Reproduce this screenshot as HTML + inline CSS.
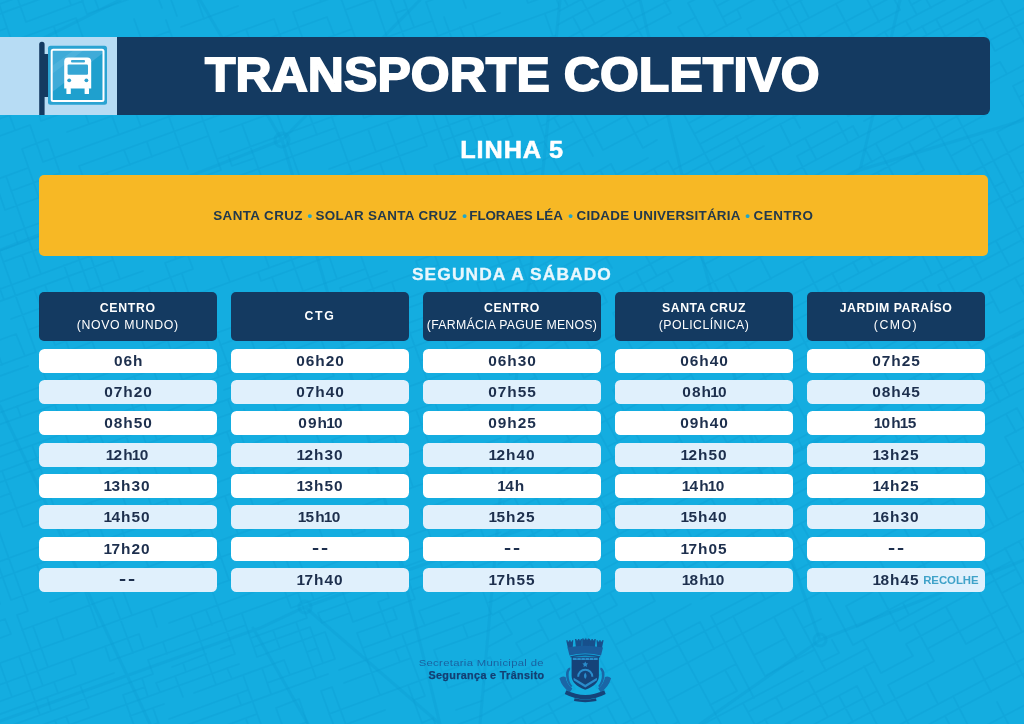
<!DOCTYPE html>
<html lang="pt-BR">
<head>
<meta charset="utf-8">
<title>Transporte Coletivo - Linha 5</title>
<style>
*{box-sizing:border-box;margin:0;padding:0}
html,body{width:1024px;height:724px;overflow:hidden}
body{background:#14ade0;font-family:"Liberation Sans",sans-serif;position:relative;color:#1b2f4a}
.abs{position:absolute}
#map{position:absolute;left:0;top:0;width:1024px;height:724px}
#lp{left:0;top:37px;width:117px;height:78px;background:#b7dcf4}
#banner{left:117px;top:37.200px;width:872.500px;height:77.800px;background:#143a61;border-radius:0 6px 6px 0}
#title{left:117px;top:37px;width:873px;height:78px;color:#fff;font-weight:bold;font-size:48.6px;line-height:78px;letter-spacing:.1px;-webkit-text-stroke:1.8px #fff;white-space:nowrap}
#title span{position:absolute;left:87.6px;top:-1.8px;display:inline-block;transform-origin:0 50%;transform:scaleX(1.027)}
#linha{left:0;top:136px;width:1024px;text-align:center;color:#fff;font-weight:bold;font-size:23px;line-height:28px;white-space:nowrap}
#yellow{left:39px;top:175.200px;width:949px;height:81.200px;background:#f7b825;border-radius:5px}
#route{left:39px;top:175px;width:949px;height:81px;line-height:81px;text-align:center;font-weight:bold;font-size:13.4px;color:#23394b;white-space:nowrap;letter-spacing:.42px}
#route span,#route i{position:absolute;top:.3px}
#route i{font-style:normal;color:#1fa6c9;width:10px;text-align:center;letter-spacing:0}
#seg{left:0;top:265px;-webkit-text-stroke:.3px #e9f7fd;width:1024px;text-align:center;color:#e9f7fd;font-weight:bold;font-size:15.8px;line-height:20px;white-space:nowrap}
.col{position:absolute;top:292px;width:178px}
.hd{height:49px;background:#143a61;border-radius:5px;color:#fff;text-align:center;font-size:12.3px;line-height:16.5px;display:flex;flex-direction:column;justify-content:center;white-space:nowrap}
.hd b{display:block}
.r{height:24px;margin-top:7.4px;background:#fff;border-radius:5.5px;text-align:center;font-weight:bold;font-size:14.3px;line-height:25.6px;color:#1d2f4d;white-space:nowrap;position:relative}
.r.a{background:#e0f0fc}
.hd + .r{margin-top:7.5px}
.r i{font-style:normal;margin:0 -1.6px 0 -1.6px}
.r em{position:absolute;left:116.2px;top:0;font-style:normal;font-size:11.4px;color:#3fa2c9;font-weight:bold;letter-spacing:-.05px;line-height:24.5px}
.sx{display:inline-block;transform-origin:50% 50%}
.r .sx{transform:scaleX(1.08);letter-spacing:.9px;margin-right:-.9px}
.r .sx.d{transform:translateY(-1.4px) scale(1.5,1.15);letter-spacing:1.2px;margin-right:-1.2px}
.hd b{letter-spacing:.7px}
.hd span{letter-spacing:.65px}
#bus{left:0;top:37px;width:117px;height:78px}
#f1{left:300px;top:657px;width:243.800px;text-align:right;font-size:9.8px;line-height:12px;color:#1a62a0;white-space:nowrap;letter-spacing:.28px}
#f1 span{display:inline-block;transform:scaleX(1.15);transform-origin:100% 50%;margin-right:-.28px}
#f2 span{display:inline-block;transform:scaleX(1.08);transform-origin:100% 50%;margin-right:-.32px}
#f2{left:300px;top:670.300px;-webkit-text-stroke:.25px #143f73;width:243.800px;text-align:right;font-size:10px;line-height:12px;color:#143f73;font-weight:bold;white-space:nowrap;letter-spacing:.32px}
#crest{left:556px;top:636px;width:60px;height:68px}
</style>
</head>
<body>
<svg id="map" viewBox="0 0 1024 724" fill="none" stroke="#0f9ed2" stroke-opacity=".36" stroke-linecap="round">
<defs>
<clipPath id="z0"><polygon points="0,0 560,0 480,724 0,724"/></clipPath>
<clipPath id="z1"><polygon points="560,0 1024,0 1024,724 480,724"/></clipPath>
</defs>
<path clip-path="url(#z0)" stroke-width="1.7" d="M-35 -5L135 -67M-50 22L74 -23M85 -27L175 -60M-47 31L43 -2M66 -10L88 -18M-105 69L7 28M26 22L83 1M122 -13L246 -58M-78 74L76 18M87 14L166 -14M189 -23L298 -62M-153 149L27 83M69 68L170 31M181 27L238 6M266 -4L439 -67M-378 256L150 64M178 54L274 19M293 12L340 -5M368 -16L425 -36M-265 232L30 125M41 121L327 17M345 10L823 -164M-31 168L-1 157M22 149L48 139M67 132L112 116M123 112L134 108M162 98L352 29M396 13L407 9M426 2L488 -21M-359 309L-36 191M-24 187L28 168M43 162L265 82M293 71L312 64M340 54L432 21M494 -2L637 -54M-120 239L0 195M11 191L60 173M79 166L299 86M318 79L393 52M408 47L500 13M528 3L692 -57M-241 300L-13 217M5 210L208 136M220 132L398 67M413 62L455 47M477 38L582 0M648 -24L697 -42M-73 264L48 220M74 211L93 204M138 187L149 183M217 159L378 100M406 90L433 80M452 73L568 31M609 16L705 -19M717 -23L906 -92M-114 292L-12 255M-1 251L52 232M67 226L153 195M164 191L221 170M232 166L255 158M288 145L335 128M364 118L456 85M467 80L518 62M546 52L614 27M661 10L815 -46M-31 274L-8 266M3 262L123 218M169 202L197 192M225 181L415 112M430 107L460 96M471 92L482 88M522 73L561 59M599 45L762 -14M781 -21L796 -27M819 -35L841 -43M-90 322L205 214M233 204L244 200M267 192L301 179M329 169L479 114M491 110L502 106M530 96L585 76M607 68L654 51M673 44L789 1M804 -4L957 -60M-246 391L113 260M136 252L181 236M209 225L427 146M442 141L630 72M658 62L692 50M726 37L737 33M756 26L831 -1M854 -9L876 -17M927 -36L1119 -106M11 319L52 304M75 295L143 271M165 263L312 209M359 192L406 175M434 165L479 148M490 144L513 136M541 126L580 111M595 106L665 81M684 74L744 52M763 45L800 31M815 26L911 -9M996 -40L1167 -102M-62 363L-40 354M-6 342L16 334M28 330L193 269M221 259L261 245M283 237L345 214M364 207L454 174M466 170L642 106M670 96L888 16M917 6L1063 -47M-299 474L36 352M55 345L89 333M104 328L354 237M372 230L474 193M504 182L697 111M713 106L925 29M947 20L1180 -64M-28 386L28 366M39 362L92 342M118 333L205 301M261 281L357 246M376 239L404 229M423 222L530 183M558 173L750 103M761 99L799 85M817 78L985 18M1013 7L1184 -55M-20 409L213 324M241 314L269 303M281 299L365 269M459 234L485 225M504 218L724 138M758 126L807 108M826 101L863 87M886 79L908 71M937 61L1192 -32M-50 431L40 398M51 394L130 365M149 358L194 342M205 337L284 309M340 288L387 271M416 261L713 153M728 147L829 110M844 105L1025 39M1058 27L1087 17M-13 429L85 394M108 386L198 353M220 345L277 324M288 320L438 265M482 250L534 230M574 216L602 206M613 202L670 181M698 171L732 159M766 146L1130 14M-88 478L-40 461M-6 448L92 413M115 404L284 343M295 339L427 291M445 284L581 235M620 220L658 207M677 200L739 177M772 165L821 147M855 135L878 127M900 119L1109 43M-85 488L-36 470M-25 466L163 397M186 389L449 293M477 283L639 224M680 209L708 199M727 192L787 170M806 164L1011 89M-61 494L100 435M123 427L149 417M168 411L190 402M224 390L527 280M538 276L829 170M848 163L863 158M886 149L908 141M959 123L1044 92M-261 577L92 449M104 445L141 431M171 420L438 323M457 316L485 306M500 300L553 281M564 277L620 257M632 252L669 239M688 232L867 167M889 159L1149 64M-256 591L11 493M45 481L67 473M78 469L131 450M146 444L232 413M272 398L334 376M368 363L443 336M462 329L505 313M546 298L721 235M740 228L755 222M789 210L967 145M990 137L1024 125M1052 114L1125 88M-211 591L182 448M204 440L401 368M420 361L698 260M727 250L794 225M806 221L843 207M877 195L973 160M995 152L1187 82M-22 544L0 535M23 527L158 478M188 467L686 286M705 279L752 262M767 256L850 226M884 214L1235 86M-51 580L178 496M197 490L321 444M332 440L482 386M510 375L537 366M556 359L589 347M618 336L713 301M742 291L821 262M839 256L858 249M877 242L915 228M937 220L960 212M988 202L1044 181M-46 595L93 544M104 540L172 516M183 511L258 484M270 480L337 455M360 447L542 381M584 366L595 362M623 351L663 337M678 332L700 323M719 316L826 277M845 271L897 252M920 243L993 217M1016 208L1249 124M-66 628L-0 604M11 600L210 527M233 519L346 478M368 470L477 430M550 403L569 396M581 392L671 360M686 354L727 339M789 316L834 300M853 293L872 286M891 280L1120 196M-216 700L5 619M17 615L28 611M50 602L118 578M137 571L312 507M340 497L407 472M436 462L501 438M530 428L691 369M714 361L840 315M859 308L1030 246M1063 234L1125 211M-211 715L-27 648M-8 641L11 634M22 630L112 597M142 586L176 574M191 568L535 443M550 438L614 414M642 404L697 384M719 376L845 330M864 323L1035 261M-19 670L252 572M297 555L325 545M353 535L365 531M421 510L468 493M496 483L588 449M600 445L679 416M690 412L705 407M774 381L947 318M970 310L1105 261M-196 756L139 634M169 623L259 590M281 582L428 529M475 512L629 456M657 445L685 435M697 431L879 365M898 358L1028 311M1050 302L1084 290M-35 714L76 674M110 661L366 568M400 556L571 494M582 490L702 446M759 425L787 415M821 403L1151 283M-64 738L-30 725M-2 715L114 673M148 660L246 625M291 608L381 576M404 567L532 521M575 505L695 461M706 457L1122 306M-26 739L153 674M172 667L206 654M221 649L232 645M251 638L307 618M318 613L518 541M536 534L726 465M767 450L863 415M893 404L946 385M969 377L1042 350M-71 766L89 708M123 695L145 687M156 683L235 654M254 647L310 627M322 623L350 613M378 602L389 598M412 590L583 528M594 524L703 484M715 480L818 442M833 437L897 413M916 407L949 394M995 378L1102 339M9 747L47 733M58 729L239 664M257 657L325 632M353 622L415 599M449 587L524 560M571 543L598 533M616 526L707 493M718 489L803 458M821 452L900 423M919 416L953 404M975 396L998 387M1021 379L1195 315M-131 811L51 745M130 716L164 704M194 693L284 660M307 652L318 648M357 633L397 619M419 611L528 571M590 548L643 529M654 525L683 515M711 505L722 501M737 495L760 487M778 480L1199 327M-126 826L68 756M79 752L158 723M169 719L248 690M267 683L335 659M363 648L459 613M487 603L506 596M534 586L553 579M581 569L891 456M910 449L962 430M985 422L1205 342M42 778L162 734M173 730L328 674M339 670L557 590M585 580L600 575M611 571L630 564M641 560L653 556M664 551L747 521M788 506L1012 425M1062 406L1085 398M-49 826L197 736M208 732L257 714M276 708L299 699M321 691L332 687M344 683L411 658M434 650L515 621M590 593L605 588M616 584L635 577M657 569L697 554M725 544L751 535M793 519L821 509M855 497L900 480M919 474L938 467M956 460L1039 430M205 759L307 722M329 714L476 660M523 643L570 626M613 610L643 599M677 587L733 567M745 563L801 542M829 532L863 519M897 507L908 503M927 496L1002 469M1025 461L1160 411M245 762L385 710M414 700L425 696M448 688L575 641M603 631L711 592M739 582L914 518M951 504L970 498M985 492L1081 457M320 760L354 747M366 743L394 733M422 723L433 718M456 710L490 698M518 688L668 633M679 629L758 600M773 595L815 580M862 563L877 557M911 545L1207 437M370 756L398 746M438 732L494 711M523 701L684 642M695 638L801 600M819 593L915 558M927 554L1066 503M364 775L466 738M500 726L637 676M648 672L667 665M678 661L690 657M701 653L853 598M872 591L1122 500M411 780L535 735M554 728L928 592M939 588L976 574M995 567L1010 562M1033 553L1320 449M377 809L741 677M796 657L933 607M963 596L982 589M1001 582L1134 534M566 762L656 729M667 725L709 710M720 706L788 681M803 675L825 667M872 650L906 638M940 626L951 621M970 615L1008 601M1023 595L1068 579M571 775L661 742M672 738L911 651M945 639L1309 506M531 811L799 713M814 707L918 670M952 657L963 653M982 647L1019 633M1034 627L1153 584M566 819L821 726M863 711L925 689M958 676L970 672M988 665L1064 638M710 784L812 747M827 741L868 726M896 716L915 709M930 704L1092 645M834 760L856 752M875 745L1076 672M811 781L975 721M986 717L1272 613M884 769L980 735M991 730L1028 717M1047 710L1181 661M954 769L999 753M1018 746L1037 739M1055 732L1324 635M765 864L1045 762M1064 755L1231 694M-55 658L-35 714M-30 725L-26 739M-19 757L-15 769M-38 617L-19 670M-12 689L-2 715M3 728L6 738M9 747L14 758M-53 517L-19 611M-14 626L12 697M25 731L28 740M32 752L47 791M-43 487L-34 510M-29 525L-22 544M-14 566L-0 604M5 619L11 634M19 656L40 715M47 733L74 807M-46 442L-31 483M-28 493L-23 506M-18 521L11 600M17 615L43 686M47 697L51 711M55 720L62 741M-43 417L-35 438M-28 456L-25 466M-20 479L28 611M33 626L48 667M54 682L58 693M66 716L74 737M83 763L96 799M-56 309L-20 409M-13 429L-6 448M2 471L23 527M37 565L45 587M56 617L64 640M71 659L76 674M80 685L89 708M96 728L106 755M-53 214L-39 252M-31 274L-18 308M-6 342L2 365M17 406L21 417M32 445L45 481M50 496L71 552M79 575L98 628M105 646L110 661M123 695L136 731M140 742L153 778M-25 221L4 300M16 334L25 356M44 409L51 428M67 473L73 488M79 507L101 567M112 597L133 653M142 678L148 697M153 708L194 821M-43 134L-38 149M-31 168L-24 187M-19 202L-13 217M-5 239L36 352M39 362L48 384M51 394L78 469M91 503L113 563M118 578L132 615M139 634L144 649M148 660L153 674M156 683L160 692M173 730L178 743M-41 82L-33 105M-12 161L5 210M14 233L18 244M22 255L30 278M34 289L55 345M66 377L109 496M118 518L131 556M137 571L142 586M151 609L157 627M163 642L167 654M175 676L183 697M192 723L197 736M205 759L219 796M-47 31L-37 59M-30 78L-1 157M6 176L41 274M45 285L58 319M66 341L95 422M100 435L104 445M114 473L129 514M143 552L154 582M183 663L186 672M217 755L222 770M-74 -114L-38 -15M-28 14L-24 23M-19 38L-7 70M-3 81L15 130M22 149L39 198M48 220L56 243M64 265L80 311M89 333L104 374M108 386L115 404M118 414L157 521M191 615L216 685M231 724L263 812M-38 -61L-23 -20M-20 -11L-4 33M8 64L24 110M30 125L43 162M71 237L107 337M115 360L119 369M130 399L172 516M180 538L186 553M206 610L212 625M227 668L232 679M237 694L241 705M246 719L260 756M-19 -43L-12 -24M-1 4L12 42M23 72L27 83M36 105L41 121M48 139L60 173M74 211L115 324M134 376L157 440M170 474L235 654M243 675L271 752M7 -31L11 -22M17 -3L26 22M38 54L46 76M54 99L60 114M79 166L120 279M137 326L145 349M149 358L160 388M168 411L171 420M182 448L197 490M210 527L229 580M242 614L257 657M262 668L271 694M276 708L308 796M30 -39L43 -2M54 27L60 45M69 68L77 90M82 105L89 124M107 173L119 207M132 241L136 252M148 286L171 350M175 361L186 389M194 412L204 440M225 496L238 534M252 572L259 590M273 630L280 649M284 660L290 675M299 699L320 760M-2 -196L71 5M76 18L91 60M112 116L119 135M124 150L130 165M146 210L158 244M165 263L179 300M182 310L194 342M213 394L216 404M227 432L255 511M266 541L291 608M296 622L316 678M321 691L335 729M43 -108L87 14M111 78L116 93M149 183L165 228M170 240L176 259M182 274L193 306M205 337L219 377M228 400L245 446M253 469L258 484M286 559L293 578M298 593L307 618M310 627L323 663M332 687L346 725M359 760L388 841M75 -56L85 -27M88 -18L99 10M110 40L114 51M127 89L141 127M147 142L152 157M164 191L193 269M201 292L205 301M213 324L231 373M244 409L249 424M278 503L283 518M289 533L314 600M318 613L322 623M325 632L335 659M113 -38L122 -13M134 19L156 79M162 98L188 169M193 180L209 225M221 259L230 282M233 291L256 353M264 376L292 455M312 507L325 545M342 590L353 622M357 633L380 695M394 733L398 746M404 761L416 795M141 -48L162 8M166 20L178 54M191 87L221 170M225 181L250 249M258 272L261 281M269 303L273 313M277 324L292 365M295 375L306 403M312 422L334 482M345 512L353 535M366 568L370 580M378 602L391 638M395 649L400 662M408 685L422 723M427 736L439 770M153 -52L162 -28M166 -14L177 16M195 64L214 117M228 155L232 166M236 177L255 230M261 245L269 267M272 277L284 309M298 348L307 371M311 384L324 418M332 440L337 455M357 508L365 531M372 549L389 598M393 608L397 619M402 634L425 696M433 718L450 765M184 -36L189 -23M196 -4L204 19M212 41L218 56M225 75L231 94M242 124L267 192M278 222L303 291M307 301L311 312M318 331L326 353M329 363L334 376M339 391L346 410M368 470L379 500M400 556L415 599M419 611L425 626M434 650L448 688M461 723L466 738M213 -63L234 -5M246 29L265 82M271 97L305 191M317 224L325 247M329 256L337 279M340 288L345 300M351 318L360 341M363 350L373 378M388 420L413 487M421 510L433 544M438 555L446 578M463 625L468 638M476 660L490 698M507 745L531 811M230 -102L258 -26M262 -15L266 -4M274 19L299 86M304 101L317 135M333 180L380 308M391 340L401 368M416 410L436 462M462 534L466 545M471 558L491 614M496 628L528 716M535 735L571 834M281 -22L285 -11M293 12L312 64M318 79L352 173M359 192L376 239M392 282L398 301M402 311L427 380M435 403L441 418M449 440L468 493M480 527L493 561M496 570L537 681M541 694L590 827M309 -32L321 2M327 17L334 35M340 54L346 69M360 107L364 118M368 129L376 152M380 163L412 251M416 261L420 272M427 291L435 313M443 336L455 370M463 392L477 430M483 445L496 483M503 501L513 528M528 571L534 586M543 610L551 633M557 648L575 699M587 733L625 836M272 -191L382 111M387 122L406 175M411 190L423 222M431 245L462 329M474 363L488 401M527 510L532 521M540 543L543 553M553 579L570 626M575 641L594 692M606 726L644 829M374 -1L387 37M398 67L406 90M411 101L427 146M434 165L439 180M448 202L459 234M463 244L467 255M477 283L482 296M490 319L495 334M502 353L510 375M516 390L530 428M550 484L560 511M565 524L568 533M585 580L598 616M634 715L646 747M383 -21L413 62M430 107L449 159M474 229L478 238M489 268L505 313M517 347L545 422M550 438L571 494M575 505L583 528M586 537L590 548M600 575L605 588M637 676L644 695M649 710L661 742M668 761L675 780M386 -48L414 27M425 58L433 80M441 103L477 202M493 245L503 274M511 296L522 324M529 343L542 381M550 403L556 418M561 433L576 475M591 514L594 524M598 533L616 584M624 606L638 644M643 657L655 691M661 706L667 725M672 738L691 790M413 -32L419 -17M426 2L438 36M443 51L460 96M468 118L479 148M484 163L493 186M496 195L504 218M508 227L527 280M530 289L547 336M561 374L575 412M588 449L605 494M610 507L626 552M630 564L649 615M657 637L674 684M686 718L698 750M412 -70L437 -2M444 17L467 80M471 92L504 182M507 191L519 223M523 235L538 276M546 298L572 370M586 407L607 464M612 479L628 522M632 533L660 610M668 633L685 680M697 714L737 823M428 -63L448 -6M460 27L466 42M474 65L482 88M491 110L495 121M502 140L515 178M527 210L541 249M553 281L578 351M584 366L627 486M636 509L653 556M657 569L666 591M679 629L690 657M702 691L727 760M435 -78L466 8M472 23L477 38M490 72L513 136M518 151L538 206M546 226L564 277M569 290L581 324M603 384L609 399M614 414L635 471M647 504L654 525M660 540L669 565M691 625L708 672M713 687L720 706M732 738L744 771M475 -55L494 -2M514 51L546 141M555 163L566 195M570 205L574 216M581 235L597 280M603 295L609 314M618 336L623 351M631 374L637 389M663 460L705 577M719 614L729 643M736 661L748 695M753 708L760 727M767 746L772 761M509 -50L528 3M542 40L546 52M550 63L569 116M575 131L602 206M612 234L631 285M638 304L646 326M651 341L659 364M670 394L679 416M685 435L700 475M720 531L747 604M752 617L757 632M770 666L788 717M795 736L807 770M520 -54L539 -1M545 14L557 48M561 59L570 81M580 111L606 181M609 190L642 281M657 322L676 375M697 431L715 480M718 489L745 563M750 578L758 600M763 613L781 662M792 694L806 732M530 -74L549 -22M554 -7L560 8M568 31L572 42M576 53L589 87M595 106L601 121M624 185L647 247M657 275L672 317M678 332L686 354M697 384L705 407M712 426L717 441M721 452L733 484M737 495L760 557M765 572L773 595M796 657L808 689M827 741L854 816M536 -128L582 0M635 145L658 207M666 229L674 252M686 286L695 308M714 361L727 399M734 417L744 444M749 457L760 487M765 502L769 513M774 526L813 633M825 667L830 680M837 699L865 776M583 -56L590 -37M596 -22L601 -7M609 16L618 38M626 61L642 106M651 129L666 170M670 181L677 200M680 209L693 245M698 260L713 301M733 354L746 392M753 410L759 425M763 437L767 450M771 459L793 519M801 542L806 557M819 593L825 608M837 642L849 674M856 692L900 815M612 -66L642 17M646 28L665 81M670 96L705 190M708 199L713 212M727 250L733 269M742 291L755 329M766 359L774 381M787 415L791 427M796 440L799 449M803 458L807 470M812 485L829 532M848 582L853 598M860 616L865 631M884 682L896 716M903 735L912 759M581 -208L677 55M689 89L735 215M745 243L800 393M806 408L814 433M825 463L840 502M848 525L884 625M891 643L931 752M652 -59L671 -7M676 4L680 16M688 38L692 50M699 68L704 83M713 106L728 147M732 159L739 177M747 200L755 222M767 256L775 279M789 316L800 347M808 369L821 403M829 427L833 437M836 446L840 457M846 472L850 484M855 497L868 534M877 557L899 619M906 638L930 704M937 722L977 833M714 3L733 56M738 71L746 94M750 103L776 174M781 188L823 304M828 319L854 391M859 402L863 415M870 434L874 445M880 460L884 471M902 522L911 545M915 558L952 657M971 710L975 721M708 -46L721 -12M725 -1L733 22M749 67L769 122M773 131L784 161M787 170L792 184M795 193L806 221M821 262L834 300M845 330L860 371M866 387L875 411M878 420L881 430M886 441L891 456M895 467L908 503M914 518L932 569M939 588L963 653M970 672L975 687M991 730L1022 817M739 -19L768 60M791 124L814 186M824 214L853 293M872 346L879 365M885 380L893 404M897 413L945 547M958 581L975 628M982 647L988 665M1001 699L1018 746M754 -37L758 -26M782 38L799 85M807 108L814 129M821 147L843 207M864 264L877 301M891 339L907 384M916 407L929 442M933 454L946 489M964 540L976 574M982 589L994 621M1007 658L1013 674M1020 692L1045 762M754 -96L777 -32M806 46L814 69M817 78L856 186M862 201L869 219M877 242L882 257M891 280L896 295M902 310L926 377M931 390L938 409M942 420L970 498M988 548L995 567M1008 601L1026 652M1032 667L1042 697M1055 732L1071 774M788 -49L792 -38M796 -27L804 -4M809 7L815 26M821 41L829 64M832 73L844 105M863 158L871 180M877 195L884 214M917 304L932 345M937 361L941 372M946 385L957 415M967 441L971 454M993 515L1010 562M1023 595L1034 627M1047 661L1053 680M1058 691L1062 704M815 -46L827 -12M838 18L843 33M852 55L871 108M878 127L881 136M894 172L915 228M939 296L954 337M964 364L969 377M989 433L1026 535M1033 553L1045 587M1050 600L1085 696M825 -88L860 10M866 25L874 47M878 57L886 79M904 128L929 197M937 220L943 235M956 273L977 329M986 355L1008 414M1012 425L1038 498M1049 526L1061 560M856 -74L876 -17M883 1L888 16M900 48L960 212M965 227L1009 347M1030 405L1039 430M888 -73L904 -28M911 -9L928 38M940 70L954 109M959 123L988 202M1007 254L1012 269M1028 311L1037 337M1045 359L1053 380M1058 395L1089 480M927 -36L934 -17M939 -2L959 52M962 62L990 137M995 152L1024 231M1030 246L1035 261M1043 284L1050 302M1056 317L1060 329M907 -195L993 40M996 50L1000 61M1007 80L1011 89M1019 112L1036 159M1044 181L1050 196M1063 234L1069 249M955 -152L1013 7M1025 39L1044 92M1047 101L1064 148M1023 -71L1035 -37M1043 -14L1047 -5M1062 38L1078 80"/>
<path clip-path="url(#z1)" stroke-width="1.7" d="M-226 98L8 -27M26 -36L127 -90M-358 195L20 -6M37 -15L80 -38M-20 38L11 21M29 12L47 2M57 -3L103 -28M121 -37L174 -65M-42 61L83 -6M108 -19L152 -42M-84 101L-35 75M-8 61L59 25M91 8L160 -28M-407 287L75 30M96 19L209 -41M-156 180L58 66M76 57L108 40M118 35L328 -77M-89 156L13 102M45 85L80 66M91 60L181 12M208 -2L393 -100M-246 253L86 77M97 71L118 60M143 46L231 -0M245 -8L312 -44M-52 161L-3 135M24 121L73 95M91 85L123 68M133 63L403 -81M-72 188L4 147M30 133L97 98M108 92L198 44M225 30L350 -37M-65 202L-20 179M1 167L11 162M38 148L105 112M115 106L453 -73M-32 198L17 172M43 158L153 100M167 92L337 2M363 -12L515 -93M-96 250L51 172M83 155L160 114M192 97L381 -3M399 -13L448 -39M-16 230L110 164M127 154L202 115M228 101L380 20M391 14L475 -31M-37 253L132 163M143 157L189 133M259 95L326 60M358 43L395 23M413 14L445 -3M462 -13L895 -243M-90 304L-28 271M-2 257L106 199M124 190L286 104M300 96L318 87M336 77L489 -4M504 -12L560 -42M-171 360L112 210M129 201L158 186M190 169L306 107M324 97L341 88M373 71L509 -1M520 -7L668 -86M-35 300L26 267M48 256L85 236M117 219L152 200M162 194L311 116M328 106L404 66M433 51L514 8M524 2L719 -101M-155 390L-24 321M-6 311L357 118M389 101L493 46M525 29L582 -1M613 -18L663 -44M-98 374L-1 322M26 308L133 251M151 241L169 232M201 215L225 202M243 192L421 98M432 92L619 -8M669 -34L690 -45M-76 380L-11 346M33 322L51 313M83 296L303 178M321 169L402 126M439 106L524 61M549 48L658 -10M676 -20L711 -38M-31 372L57 325M79 314L165 268M183 258L239 228M257 219L359 165M377 155L545 66M555 60L587 43M601 36L683 -7M718 -26L771 -54M-64 403L19 359M45 345L171 278M188 269L231 246M245 239L289 215M316 201L501 103M519 93L671 13M688 3L709 -8M724 -15L777 -44M-71 425L71 350M102 333L341 206M355 199L373 189M422 163L459 143M477 134L509 117M526 108L569 85M600 68L646 44M678 27L696 17M717 6L869 -75M-76 441L32 384M76 360L135 329M166 313L258 264M302 240L361 209M378 200L514 128M532 118L606 79M620 71L684 37M723 17L768 -8M779 -13L790 -19M-189 513L-25 426M37 393L63 379M81 369L139 338M171 321L383 209M459 168L487 153M537 127L568 110M579 104L657 63M688 46L741 18M773 1L969 -103M-41 447L118 363M145 349L177 332M194 323L574 121M630 91L733 36M747 29L1045 -130M-97 500L128 381M186 350L232 325M253 314L322 277M366 254L484 191M534 165L640 108M672 91L984 -75M-133 542L-36 490M17 462L88 425M105 415L195 367M213 358L273 326M287 318L543 182M561 173L579 163M603 150L681 109M713 92L1142 -136M-80 532L-28 504M25 476L113 429M134 418L281 340M295 333L415 269M432 259L501 223M519 213L551 196M586 178L611 164M643 148L657 140M689 123L900 10M911 5L957 -20M983 -34L1093 -92M-120 567L-33 521M-23 515L13 496M57 473L101 449M118 440L140 429M150 423L226 383M244 373L318 334M345 320L403 289M420 279L648 158M694 134L744 107M765 96L811 72M821 66L832 61M858 46L1077 -70M-28 531L250 384M281 367L306 354M324 344L377 316M394 307L502 250M513 244L530 234M580 208L612 191M622 186L668 161M700 144L995 -12M1012 -22L1104 -71M-78 569L2 527M23 516L111 469M129 459L328 353M355 339L381 325M413 308L448 289M480 272L627 194M673 170L832 86M842 80L1123 -69M-73 578L89 492M116 477L192 437M224 420L241 411M259 401L404 324M435 308L511 267M522 262L571 235M607 216L873 75M900 61L978 19M1022 -4L1061 -25M-53 581L-13 559M-2 554L33 535M77 512L409 335M441 318L491 292M517 278L627 220M669 197L683 190M715 173L764 146M842 105L906 71M927 60L937 54M951 47L1045 -3M-21 578L83 522M101 513L281 417M302 406L397 355M429 338L447 329M496 302L618 238M632 230L675 208M689 200L837 121M848 116L932 71M943 65L1051 8M-217 695L-1 581M9 575L89 533M106 523L286 428M308 416L528 299M539 293L624 248M638 241L758 177M797 156L853 126M864 121L949 75M995 51L1021 37M1039 28L1145 -29M-51 620L138 520M177 499L313 427M324 421L356 404M382 390L426 367M440 359L507 324M534 310L594 278M654 246L944 92M954 86L1000 62M1027 48L1136 -11M-108 667L-3 611M11 604L221 492M299 451L345 426M362 417L514 336M541 322L569 307M601 290L707 234M738 217L788 190M809 179L961 98M975 91L1199 -28M-69 662L152 545M190 524L227 504M259 487L395 415M422 401L439 392M521 348L547 334M558 329L607 302M625 293L982 103M1013 86L1149 14M-192 741L-18 648M23 627L113 579M131 569L157 555M175 546L265 498M283 489L300 479M311 474L581 330M613 313L630 304M648 294L673 281M705 264L987 114M1019 97L1063 74M-97 713L-8 666M18 652L32 644M43 639L96 610M122 596L352 474M366 467L536 377M562 363L640 321M657 312L924 170M951 156L982 139M997 132L1111 71M-75 728L54 660M68 652L134 618M151 608L217 573M227 568L395 479M422 464L448 450M466 441L573 384M584 378L856 233M888 217L1101 103M-139 790L101 662M118 653L189 615M207 606L375 517M389 509L433 486M459 472L477 462M509 445L595 399M613 390L645 373M662 364L867 255M910 232L973 198M994 187L1005 181M1019 174L1051 157M-68 766L20 719M46 705L271 585M302 569L532 446M564 430L619 400M650 384L668 374M686 365L1025 185M1056 168L1171 107M-52 771L11 737M26 729L52 715M91 695L112 683M130 674L276 596M308 579L488 483M502 476L691 375M705 368L762 338M794 321L984 220M1006 208L1089 164M23 758L63 736M77 729L88 723M102 716L123 705M141 695L185 672M212 658L319 600M355 582L411 552M429 542L581 461M607 447L635 432M667 415L876 305M890 297L1266 97M-14 791L147 706M173 692L191 682M217 668L256 648M267 642L343 602M360 592L417 562M461 539L623 452M673 426L811 353M842 336L895 308M938 285L1033 234M1047 227L1215 138M-28 817L242 673M264 662L274 656M301 642L410 584M424 576L527 522M544 512L620 472M631 466L680 440M716 421L772 391M786 384L1041 249M-32 835L231 695M249 685L307 654M339 637L374 619M385 613L406 602M417 596L449 579M475 565L637 479M655 469L687 452M705 443L779 404M825 379L856 362M874 353L962 306M989 292L1061 253M102 775L421 605M436 597L506 560M538 543L709 452M727 443L798 405M829 388L994 301M1020 287L1052 270M94 795L154 763M198 739L216 730M260 707L396 634M417 623L698 474M716 464L790 425M804 417L868 384M907 363L963 333M1000 313L1027 299M1048 288L1058 282M162 777L393 654M404 648L450 624M467 615L960 353M971 347L1034 313M1055 302L1080 289M146 799L363 683M381 674L558 580M575 571L761 472M771 466L934 380M966 363L987 352M1013 338L1072 307M235 765L261 751M279 742L337 711M369 694L387 685M404 675L717 509M735 500L1045 334M144 829L422 682M443 671L512 634M538 620L570 603M605 584L637 567M674 548L815 473M861 448L1026 361M1052 347L1084 330M124 851L312 752M322 746L416 696M458 674L490 657M516 643L543 629M560 619L668 562M696 547L937 419M951 412L1249 253M235 808L405 718M422 709L617 605M648 589L703 559M735 543L841 486M873 469L1167 312M394 740L556 653M574 644L655 601M692 581L759 545M777 536L911 465M929 455L1017 408M1043 394L1148 339M313 805L421 748M438 739L597 654M615 645L691 604M701 599L857 516M889 499L973 454M1005 437L1053 412M195 891L458 751M479 739L575 689M592 679L700 622M711 616L778 581M795 571L820 558M852 541L866 534M898 517L969 479M1025 449L1110 404M385 801L495 743M509 735L579 698M597 688L611 681M629 671L783 590M800 580L814 573M825 567L857 550M871 543L903 526M934 509L1030 458M1040 453L1364 281M230 906L518 753M536 743L621 698M638 689L866 568M880 560L944 527M961 517L983 506M997 498L1207 387M529 774L650 710M667 701L736 664M754 655L786 638M803 628L821 619M846 606L1050 497M611 758L629 748M643 741L678 722M710 705L737 691M765 676L814 650M857 627L966 569M984 560L1229 429M473 847L803 671M821 662L839 653M853 645L941 598M973 581L1012 561M1058 536L1360 376M596 793L690 743M748 712L868 648M900 631L1016 569M679 765L696 756M755 725L875 661M906 644L952 619M1002 593L1117 532M636 804L857 686M881 673L913 656M927 649L1008 605M1030 594L1044 587M589 844L778 744M796 734L877 691M888 685L934 661M966 644L997 627M1036 607L1082 582M623 844L804 748M835 731L1058 613M728 816L1055 642M767 811L1040 665M1062 654L1155 604M916 763L958 741M972 733L1142 643M966 755L1202 629M1023 752L1187 665M-44 633L-37 645M-32 656L0 716M-53 581L-36 613M-30 625L14 708M20 719L81 834M-37 548L18 652M29 673L41 694M46 705L52 715M63 736L83 774M-47 496L-39 510M-33 521L-13 559M-7 570L-1 581M4 591L11 604M17 616L23 627M32 644L55 687M61 697L77 729M91 754L102 775M-45 473L-36 490M-17 526L-8 543M-2 554L9 575M28 610L34 621M43 639L54 660M65 681L71 692M88 723L94 734M101 748L108 760M-14 497L-9 507M-3 518L2 527M6 536L12 546M23 567L68 652M85 684L91 695M102 716L122 753M-48 381L-35 406M-30 417L63 592M112 683L123 705M129 715L148 750M154 763L162 777M-37 360L-31 372M-25 383L-12 407M-7 416L8 444M17 462L56 536M62 547L74 570M81 582L87 593M96 610L118 653M124 663L147 706M154 720L161 732M165 741L185 778M-24 321L9 383M19 402L57 473M72 501L83 522M89 533L101 556M122 596L167 681M181 706L187 718M198 739L242 821M-37 253L-28 271M-6 311L19 359M32 384L42 403M52 421L61 439M69 453L85 483M101 513L118 546M125 559L131 569M140 587L151 608M174 651L191 682M198 696L224 744M229 755L259 811M-38 188L-32 198M-16 230L-11 239M-2 257L33 322M40 334L53 359M63 379L69 389M78 407L95 439M101 449L106 460M111 469L121 488M133 509L152 545M189 615L195 626M200 636L225 682M231 695L236 704M243 716L256 741M268 764L309 841M-35 152L-20 179M-15 189L-7 203M7 230L43 299M51 313L96 397M113 429L139 479M145 489L156 510M163 523L195 585M212 616L218 627M242 673L273 731M286 754L327 832M-53 67L-28 112M-24 121L-13 141M-7 153L1 167M14 192L43 247M48 256L59 277M65 287L79 314M97 349L117 386M127 404L140 429M145 439L155 457M160 467L196 535M205 552L228 595M264 662L270 674M275 683L295 720M-35 75L-18 107M-13 116L11 162M34 204L39 213M48 230L54 241M70 271L89 308M102 333L145 412M150 423L171 462M177 472L207 529M227 568L267 642M274 656L292 690M305 714L354 806M-30 20L-16 47M-8 61L9 93M38 148L51 172M74 216L80 227M85 236L102 268M121 305L129 319M135 329L164 384M171 398L182 419M214 480L233 515M265 575L288 617M301 642L312 663M326 690L332 700M337 711L344 723M349 732L355 744M362 757L371 774M-32 -60L11 21M16 30L24 44M29 55L45 85M51 95L75 141M112 210L117 219M128 240L148 277M153 288L166 313M171 321L195 367M209 392L214 403M224 420L240 452M246 463L259 487M297 558L332 625M350 659L369 694M387 727L403 758M8 -27L41 35M47 45L80 107M87 121L110 164M124 190L129 201M134 210L145 231M151 241L159 255M171 278L194 323M213 358L241 411M247 421L258 443M264 453L277 478M283 489L292 506M303 527L320 559M326 570L337 591M357 628L361 637M368 649L376 663M381 674L393 697M398 706L435 775M-14 -112L26 -36M37 -15L51 11M59 25L76 57M97 98L132 163M142 181L152 200M163 221L188 269M196 283L231 348M238 363L244 373M259 401L276 433M281 444L295 469M310 497L332 539M343 560L368 606M379 627L393 654M404 675L411 688M416 696L429 721M438 739L452 765M37 -42L48 -21M62 6L75 30M91 60L115 106M129 131L143 157M152 175L174 216M179 226L199 263M207 277L212 288M217 297L254 368M265 387L275 406M281 417L286 428M299 451L311 474M331 512L343 534M348 544L378 601M385 613L396 634M404 648L409 659M415 670L426 691M433 703L458 751M96 19L118 60M159 137L173 164M179 174L201 215M215 242L220 252M233 277L238 286M244 296L263 332M270 346L286 376M291 385L296 395M302 406L320 439M332 462L364 522M370 533L400 589M406 602L417 623M425 637L447 679M454 692L470 722M479 739L493 766M12 -165L89 -20M107 13L140 75M147 89L153 100M170 132L184 158M194 178L206 199M211 209L225 236M244 271L254 291M264 308L286 351M292 361L313 400M318 411L324 421M337 446L343 457M352 474L375 517M380 527L397 559M403 570L421 605M436 631L441 642M447 653L453 665M458 674L481 716M490 734L495 743M94 -45L108 -19M115 -5L137 36M143 46L154 68M161 82L175 107M189 133L204 161M208 170L220 191M233 216L245 239M252 253L300 343M306 354L311 363M315 371L389 509M394 520L417 562M424 576L436 597M442 610L450 624M455 635L461 645M472 666L479 679M504 726L541 795M126 -28L139 -4M150 18L165 46M192 97L202 115M206 124L226 161M237 182L257 219M263 230L276 254M286 274L296 291M305 309L324 344M328 353L344 383M362 417L369 429M374 440L406 500M418 521L429 542M442 567L449 579M460 600L479 636M490 657L512 699M522 717L589 844M70 -196L165 -18M176 4L181 12M198 44L219 83M233 110L307 249M313 260L322 277M339 309L345 320M350 330L382 390M389 403L395 415M401 426L433 486M438 496L486 586M499 611L512 634M516 643L523 655M529 668L539 685M548 703L562 729M574 751L609 818M203 -11L208 -2M213 9L245 69M255 87L274 124M279 133L296 164M303 178L339 246M348 263L358 281M365 295L381 325M392 344L397 355M403 366L415 389M427 412L448 450M471 493L482 514M487 525L506 560M520 586L532 608M538 620L549 641M556 653L575 689M589 715L623 779M204 -52L242 21M263 60L277 86M286 104L308 144M314 155L328 181M333 192L351 226M357 236L366 254M383 286L394 307M399 316L409 335M415 346L421 356M426 367L433 379M445 402L454 420M466 441L499 505M519 542L538 577M549 598L560 619M583 662L597 688M607 706L618 727M629 748L640 769M256 13L269 38M277 52L286 70M291 79L306 107M322 137L335 162M342 174L371 229M380 246L423 328M429 338L440 359M454 384L480 433M491 455L497 465M514 497L538 543M545 555L563 591M575 612L588 637M597 654L607 672M611 681L643 741M241 -58L263 -17M267 -9L318 87M324 97L328 106M340 127L353 152M359 165L365 175M373 189L378 200M383 209L407 255M415 269L431 299M435 308L477 385M497 424L520 466M531 488L544 512M551 525L661 731M667 744L672 753M259 -67L285 -18M299 9L312 33M336 77L357 118M377 155L390 180M396 190L448 289M459 309L464 319M470 330L504 394M526 436L538 457M555 489L599 572M610 593L617 605M623 618L632 635M642 653L703 768M323 -22L353 34M358 43L368 61M373 71L378 80M395 112L432 182M470 253L502 313M507 324L514 336M526 359L547 398M564 430L581 461M586 472L619 534M625 544L655 601M664 619L722 726M735 751L741 763M339 -58L357 -22M371 2L385 29M394 46L400 57M404 66L416 87M421 98L429 112M435 124L441 135M449 149L459 168M464 179L474 197M483 214L496 239M502 250L507 258M523 288L534 310M541 322L547 334M573 384L627 484M632 493L646 520M651 530L668 562M700 622L714 649M725 670L737 691M743 703L755 725M775 763L793 797M354 -55L391 14M395 23L405 41M415 60L452 129M469 163L501 223M507 233L513 244M522 262L539 293M558 329L584 378M601 410L623 452M631 466L649 500M662 525L674 548M679 556L692 581M711 616L754 698M765 719L778 744M786 758L809 802M367 -73L399 -13M408 5L413 14M422 31L464 109M487 153L525 224M530 234L535 243M545 263L551 273M562 295L575 319M581 330L602 369M613 390L624 411M635 432L660 478M674 505L692 538M696 547L710 572M733 616L765 676M776 697L783 710M789 722L796 734M804 748L842 821M403 -81L445 -3M481 66L495 92M501 103L514 128M519 136L525 147M543 182L551 196M562 218L571 235M588 267L594 278M601 290L607 302M613 313L645 373M650 384L687 452M692 461L706 488M711 498L724 521M735 543L741 555M760 590L765 599M774 617L797 659M808 680L828 717M847 753L853 765M428 -78L458 -21M482 25L493 46M526 108L568 187M574 198L584 217M589 226L595 236M606 258L612 268M618 281L630 304M640 321L651 342M668 374L674 385M691 417L729 489M741 512L746 521M752 533L768 563M778 581L783 590M792 607L826 671M839 696L853 722M864 743L876 766M466 -48L475 -31M480 -22L500 15M517 47L531 73M536 84L549 109M554 118L560 128M579 163L597 199M607 216L624 248M636 271L680 354M686 365L716 421M722 434L734 455M747 480L800 580M832 640L839 653M857 686L888 746M894 757L926 817M489 -38L514 8M525 29L531 39M538 54L545 66M550 77L593 156M600 170L606 181M612 191L621 209M632 230L638 241M643 251L657 276M662 287L705 368M722 400L730 414M741 435L778 504M791 529L814 573M824 590L853 645M864 666L885 705M896 726L908 749M500 -44L505 -35M514 -17L524 2M536 23L561 71M579 104L603 150M611 164L622 186M627 194L648 235M667 270L673 281M693 320L716 362M733 394L740 408M747 421L788 498M801 523L825 567M846 606L857 627M863 640L881 673M888 685L951 804M532 -61L568 6M573 17L593 54M600 68L606 79M616 98L643 148M654 169L680 218M692 241L790 425M798 439L803 450M815 473L820 481M827 494L843 524M852 541L857 550M866 568L900 631M906 644L913 656M927 683L938 704M945 716L951 727M966 755L994 808M551 -59L566 -31M570 -22L595 24M601 36L614 61M620 71L625 80M630 91L649 126M668 161L700 221M728 274L739 295M751 317L756 327M773 359L812 431M817 442L834 474M866 534L891 582M903 603L909 615M914 624L934 661M953 696L972 733M578 -85L646 44M662 74L672 91M681 109L745 229M751 240L771 279M782 300L818 367M843 415L849 425M861 448L866 457M873 469L879 482M898 517L935 586M946 607L966 644M973 658L991 692M997 702L1012 731M1023 752L1028 762M651 -24L671 13M678 27L684 37M688 46L713 92M720 106L726 117M736 136L758 177M770 200L782 223M803 262L825 304M842 336L861 371M868 384L898 440M904 452L944 527M955 548L966 569M978 590L1028 685M1036 700L1055 735M1060 746L1071 767M647 -74L683 -7M688 3L706 37M712 47L749 118M770 157L781 178M788 190L800 213M809 231L821 252M832 273L860 326M868 341L874 353M885 374L893 388M899 399L911 422M915 431L922 443M929 455L1022 632M1034 653L1089 757M690 -45L697 -31M704 -19L727 26M759 86L765 96M780 124L791 146M797 156L809 179M831 220L842 241M853 262L859 273M876 305L895 342M914 377L969 479M983 506L994 527M1005 548L1044 621M1055 642L1067 665M711 -38L718 -26M724 -15L731 -1M737 9L741 18M747 29L766 64M773 78L800 128M805 138L816 159M830 184L845 212M856 233L873 265M890 297L909 334M914 343L939 391M951 412L957 424M964 437L1008 520M1019 541L1108 707M736 -69L755 -32M763 -18L798 47M805 61L821 91M826 100L831 111M837 121L848 142M876 195L910 259M922 280L935 305M941 317L960 353M971 374L983 395M1005 437L1029 481M1051 524L1069 557M766 -38L848 116M853 126L859 137M865 149L872 162M878 172L887 190M898 211L910 232M921 253L932 275M938 285L945 299M952 312L957 320M963 333L971 347M976 358L982 368M988 380L1000 402M1006 414L1016 432M1025 449L1062 518M790 -19L809 18M819 36L847 89M876 144L898 184M909 205L967 315M974 327L981 341M987 352L1010 396M1017 408L1050 470M1061 491L1072 513M816 -33L826 -14M836 4L869 66M873 75L879 85M885 96L890 106M896 117L903 129M909 142L924 170M935 191L947 212M952 223L958 234M969 255L982 280M989 292L1000 313M1026 361L1053 412M1062 430L1067 438M837 -58L879 22M885 32L891 43M911 82L962 177M973 198L979 209M996 241L1009 265M1015 278L1027 299M1034 313L1040 324M1057 356L1079 398M874 -39L900 10M906 21L912 32M916 41L938 81M944 92L1030 254M1048 288L1067 323M904 -9L917 15M922 26L927 35M937 54L967 111M982 139L1016 203M1027 224L1033 234M1041 249L1047 261M1052 270L1072 307M908 -34L931 8M936 19L951 47M982 103L987 114M997 132L1030 195M1042 216L1061 253M957 -20L968 2M978 19L995 51M1000 62L1007 74M1013 86L1028 115M1040 136L1051 157M1056 168L1079 210M999 -4L1055 101M1001 -43L1012 -22M1017 -13L1033 17M1044 38L1057 63M1063 74L1072 91M1030 -31L1051 8M1056 18L1075 54"/>
<path stroke-width="3" d="M0 406L150 724M0 721L260 628L305 607L520 530L760 470M253 628L308 724M305 607L440 724M282 140L0 250M282 140L420 0M282 140L200 0M282 140L330 300L380 480L440 724M560 0L540 200L500 500L480 724M1024 560L820 640L700 724M820 640L760 470L700 250L640 0M1024 120L860 170L700 250M0 60L120 0M860 170L900 0M1024 330L760 470"/>
<circle cx="282" cy="140" r="7" stroke-width="3"/><circle cx="305" cy="607" r="6" stroke-width="3"/><circle cx="820" cy="640" r="6" stroke-width="3"/>
</svg>
<div id="lp" class="abs"></div>
<svg id="bus" class="abs" viewBox="0 37 117 78">
<rect x="39.2" y="41.8" width="5.4" height="75" rx="2.6" fill="#143a61"/>
<rect x="44" y="54" width="4.5" height="43" fill="#143a61"/>
<rect x="48" y="45.8" width="59" height="59" rx="2.5" fill="#2aa3d2"/>
<clipPath id="sg"><rect x="52.6" y="50.6" width="50" height="49.6"/></clipPath>
<g clip-path="url(#sg)">
<rect x="52" y="50" width="52" height="51" fill="#3fabd8"/>
<polygon points="52,74 52,66 74,50 84,50" fill="#4db2dc"/>
<polygon points="52,92.300 104,52.200 104,102 52,102" fill="#1fa0ce"/>
</g>
<rect x="51.7" y="49.7" width="51.8" height="51.4" rx="1.5" fill="none" stroke="#fff" stroke-width="2"/>
<path d="M64.2 88.6V61.5a4 4 0 0 1 4-4h19a4 4 0 0 1 4 4V88.6z" fill="#fff"/>
<rect x="66.4" y="88" width="4.4" height="6" rx=".6" fill="#fff"/>
<rect x="84.6" y="88" width="4.4" height="6" rx=".6" fill="#fff"/>
<rect x="71" y="60.1" width="14" height="2.3" rx="1" fill="#3aa9d6"/>
<rect x="67.6" y="64.4" width="20.4" height="10.4" rx="1.2" fill="#35a6d4"/>
<circle cx="69.2" cy="80.3" r="1.9" fill="#2a9fce"/>
<circle cx="86.4" cy="80.3" r="1.9" fill="#2a9fce"/>
</svg>
<div id="banner" class="abs"></div>
<div id="title" class="abs"><span>TRANSPORTE COLETIVO</span></div>
<div id="linha" class="abs"><span class="sx" style="transform:scaleX(1.1);letter-spacing:.8px;margin-right:.6px;-webkit-text-stroke:.5px #fff">LINHA 5</span></div>
<div id="yellow" class="abs"></div>
<div id="route" class="abs"><span style="left:174.2px;letter-spacing:0.42px">SANTA CRUZ</span><i style="left:265.9px">•</i><span style="left:276.5px;letter-spacing:0.33px">SOLAR SANTA CRUZ</span><i style="left:420.5px">•</i><span style="left:430.3px;letter-spacing:-0.09px">FLORAES LÉA</span><i style="left:526.7px">•</i><span style="left:537.6px;letter-spacing:0.24px">CIDADE UNIVERSITÁRIA</span><i style="left:703.7px">•</i><span style="left:714.6px;letter-spacing:0.58px">CENTRO</span></div>
<div id="seg" class="abs"><span class="sx" style="transform:scaleX(1.1);letter-spacing:1px">SEGUNDA A SÁBADO</span></div>

<div class="col" style="left:38.800px">
 <div class="hd"><b>CENTRO</b><span>(NOVO MUNDO)</span></div>
 <div class="r"><span class="sx">06h</span></div><div class="r a"><span class="sx">07h20</span></div><div class="r"><span class="sx">08h50</span></div><div class="r a"><span class="sx"><i>1</i>2h<i>1</i>0</span></div><div class="r"><span class="sx"><i>1</i>3h30</span></div><div class="r a"><span class="sx"><i>1</i>4h50</span></div><div class="r"><span class="sx"><i>1</i>7h20</span></div><div class="r a"><span class="sx d">--</span></div>
</div>
<div class="col" style="left:231px">
 <div class="hd"><b style="letter-spacing:1.6px">CTG</b></div>
 <div class="r"><span class="sx">06h20</span></div><div class="r a"><span class="sx">07h40</span></div><div class="r"><span class="sx">09h<i>1</i>0</span></div><div class="r a"><span class="sx"><i>1</i>2h30</span></div><div class="r"><span class="sx"><i>1</i>3h50</span></div><div class="r a"><span class="sx"><i>1</i>5h<i>1</i>0</span></div><div class="r"><span class="sx d">--</span></div><div class="r a"><span class="sx"><i>1</i>7h40</span></div>
</div>
<div class="col" style="left:423px">
 <div class="hd"><b>CENTRO</b><span style="letter-spacing:.27px">(FARMÁCIA PAGUE MENOS)</span></div>
 <div class="r"><span class="sx">06h30</span></div><div class="r a"><span class="sx">07h55</span></div><div class="r"><span class="sx">09h25</span></div><div class="r a"><span class="sx"><i>1</i>2h40</span></div><div class="r"><span class="sx"><i>1</i>4h</span></div><div class="r a"><span class="sx"><i>1</i>5h25</span></div><div class="r"><span class="sx d">--</span></div><div class="r a"><span class="sx"><i>1</i>7h55</span></div>
</div>
<div class="col" style="left:615px">
 <div class="hd"><b style="letter-spacing:.55px">SANTA CRUZ</b><span style="letter-spacing:.45px">(POLICLÍNICA)</span></div>
 <div class="r"><span class="sx">06h40</span></div><div class="r a"><span class="sx">08h<i>1</i>0</span></div><div class="r"><span class="sx">09h40</span></div><div class="r a"><span class="sx"><i>1</i>2h50</span></div><div class="r"><span class="sx"><i>1</i>4h<i>1</i>0</span></div><div class="r a"><span class="sx"><i>1</i>5h40</span></div><div class="r"><span class="sx"><i>1</i>7h05</span></div><div class="r a"><span class="sx"><i>1</i>8h<i>1</i>0</span></div>
</div>
<div class="col" style="left:807px">
 <div class="hd"><b style="letter-spacing:.5px">JARDIM PARAÍSO</b><span style="letter-spacing:1.5px">(CMO)</span></div>
 <div class="r"><span class="sx">07h25</span></div><div class="r a"><span class="sx">08h45</span></div><div class="r"><span class="sx"><i>1</i>0h<i>1</i>5</span></div><div class="r a"><span class="sx"><i>1</i>3h25</span></div><div class="r"><span class="sx"><i>1</i>4h25</span></div><div class="r a"><span class="sx"><i>1</i>6h30</span></div><div class="r"><span class="sx d">--</span></div><div class="r a"><span class="sx"><i>1</i>8h45</span><em>RECOLHE</em></div>
</div>
<div id="f1" class="abs"><span>Secretaria Municipal de</span></div>
<div id="f2" class="abs"><span>Segurança e Trânsito</span></div>
<svg id="crest" class="abs" viewBox="556 636 60 68">
<g fill="#17508c">
<!-- crown towers -->
<path d="M566.2 640.2h1.500v1.200h1.400v-1.200h1.500v1.200h1.400v-1.200h1.300l-.6 7.600-4.700 1z"/>
<path d="M575 639h1.500v1.200h1.400v-1.200h1.500v1.200h1.300v-1.200h1.200l-.2 7.600-5.800.6z"/>
<path d="M582.200 638.400h1.500v1.200h1.300v-1.200h1.500v1.200h1.300v-1.200h1.500l0 8-7.100 0z"/>
<path d="M588.900 639h1.200v1.200h1.300v-1.200h1.500v1.200h1.400v-1.200h1.500l-.9 8.200-5.800-.6z"/>
<path d="M596.500 640.200h1.300v1.200h1.400v-1.200h1.500v1.200h1.400v-1.200h1.500l-1.800 8.600-4.700-1z"/>
<path d="M567.500 647.600q17.750-3.800 35.500 0l-2 8q-15.750-4.200-31.500 0z" fill="#1a5c9c"/>
<path d="M570.200 656.200q15.050-3.900 30.100 0l-.3 1.300q-14.750-3.700-29.500 0z"/>
</g>
<g fill="#1a66a6">
<!-- supporters -->
<path d="M569.600 667.500q-3.600 1.800-3.600 7 .2 7.800 5 12.800l1.400-1.400q-3.900-4.700-3.800-11 .1-3.600 1.800-5.800z"/>
<path d="M600.900 667.500q3.600 1.800 3.600 7-.2 7.800-5 12.800l-1.400-1.400q3.900-4.700 3.800-11-.1-3.600-1.800-5.800z"/>
<path d="M559.400 678.200q2.600-2.400 6.200-1.200 1 7.200 6.800 11.600l-2.600 3.600q-7.600-4.600-10.400-14z"/>
<path d="M611.100 678.200q-2.600-2.400-6.200-1.200-1 7.200-6.800 11.600l2.600 3.600q7.600-4.600 10.400-14z"/>
</g>
<g fill="#154379">
<!-- shield -->
<path d="M571.600 656.800h27.300v19q0 9.200-13.650 14-13.650-4.800-13.650-14z"/>
<!-- ribbon -->
<path d="M566.300 690.300q18.950 9.500 37.900 0l1.500 3.700q-20.450 10.800-40.900 0z"/>
<path d="M574.500 698.300q10.750 2.400 21.500 0l.5 2.700q-11.250 2.300-22.500 0z"/>
</g>
<g fill="#2a8ccb">
<rect x="572.800" y="657.700" width="24.900" height="2.300"/>
<path d="M577.200 676.800a8.050 8.050 0 0 1 16.100 0l-1.900 0a6.150 6.150 0 0 0 -12.300 0z"/>
<path d="M573.600 677.800l11.650 7 11.650-7 0 2.400-11.650 7.200-11.650-7.200z"/>
<path d="M585.250 672.600q2.600 3.900 0 6.400-2.600-2.500 0-6.400z"/>
<path d="M585.250 661.400l.9 1.800 2 .3-1.500 1.400.4 2-1.800-1-1.800 1 .4-2-1.500-1.400 2-.3z"/>
</g>
<g fill="#154379"><circle cx="577" cy="658.850" r=".6"/><circle cx="581.100" cy="658.850" r=".6"/><circle cx="585.250" cy="658.850" r=".6"/><circle cx="589.400" cy="658.850" r=".6"/><circle cx="593.500" cy="658.850" r=".6"/></g>
</svg>
</body>
</html>
